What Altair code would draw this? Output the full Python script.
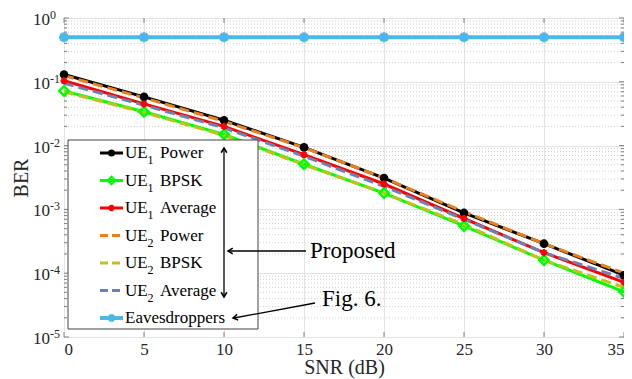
import altair as alt
import pandas as pd

# ---------------- data ----------------
snr = [0, 5, 10, 15, 20, 25, 30, 35]
ue1_power = [0.130, 0.058, 0.025, 0.0094, 0.0031, 0.00088, 0.00029, 9.3e-5]
ue1_bpsk = [0.072, 0.034, 0.015, 0.0051, 0.0018, 0.00055, 0.00016, 5.1e-5]
ue1_avg = [0.104, 0.045, 0.020, 0.0072, 0.0025, 0.00072, 0.00021, 7.2e-5]
ue2_power = [0.125, 0.056, 0.024, 0.0093, 0.0031, 0.00092, 0.00029, 1.0e-4]
ue2_bpsk = [0.070, 0.033, 0.0145, 0.0050, 0.0018, 0.00058, 0.00016, 6.0e-5]
ue2_avg = [0.095, 0.043, 0.019, 0.0068, 0.0023, 0.00070, 0.00021, 8.3e-5]
eaves = [0.5, 0.5, 0.5, 0.5, 0.5, 0.5, 0.5, 0.5]

x_ticks = [0, 5, 10, 15, 20, 25, 30, 35]
y_exps = [0, -1, -2, -3, -4, -5]
y_major = [10.0 ** e for e in y_exps]
y_minor = [m * 10.0 ** k for k in range(-5, 0) for m in range(2, 10)]

legend_labels = ["Power", "BPSK", "Average", "Power", "BPSK", "Average", "Eavesdroppers"]
legend_subs = ["1", "1", "1", "2", "2", "2", ""]

FONT = "Liberation Serif, Times New Roman, DejaVu Serif, serif"
W, H = 560, 319

xs = alt.Scale(domain=[0, 35], nice=False, zero=False)
ys = alt.Scale(type="log", domain=[1e-5, 1], nice=False)

xaxis = alt.Axis(values=x_ticks, grid=True, gridColor="#e3e3e3", ticks=False, domain=False,
                 labelFont=FONT, labelFontSize=17, labelColor="#262626", labelPadding=4,
                 title="SNR (dB)", titleFont=FONT, titleFontSize=20, titleFontWeight="normal",
                 titleColor="#262626", titlePadding=0)
yaxis = alt.Axis(values=y_major, grid=True, gridColor="#e3e3e3", ticks=False, domain=False,
                 labels=False, title="BER", titleFont=FONT, titleFontSize=20,
                 titleFontWeight="normal", titleColor="#262626", titlePadding=33)

X = lambda: alt.X("snr:Q", scale=xs, axis=xaxis)
Y = lambda: alt.Y("ber:Q", scale=ys, axis=yaxis)

one = pd.DataFrame({"a": [0]})
layers = []

# minor grid (dotted)
minor_df = pd.DataFrame({"ber": y_minor})
layers.append(alt.Chart(minor_df).mark_rule(color="#d0d0d0", strokeWidth=1, strokeDash=[1, 2])
              .encode(y=Y()))
# minor ticks left/right
layers.append(alt.Chart(minor_df).mark_rule(color="#808080", strokeWidth=1)
              .encode(y=Y(), x=alt.value(0), x2=alt.value(3)))
layers.append(alt.Chart(minor_df).mark_rule(color="#808080", strokeWidth=1)
              .encode(y=Y(), x=alt.value(W - 3), x2=alt.value(W)))
major_df = pd.DataFrame({"ber": y_major})
layers.append(alt.Chart(major_df).mark_rule(color="#808080", strokeWidth=1)
              .encode(y=Y(), x=alt.value(0), x2=alt.value(5)))
layers.append(alt.Chart(major_df).mark_rule(color="#808080", strokeWidth=1)
              .encode(y=Y(), x=alt.value(W - 5), x2=alt.value(W)))
xt_df = pd.DataFrame({"snr": x_ticks})
layers.append(alt.Chart(xt_df).mark_rule(color="#808080", strokeWidth=1)
              .encode(x=X(), y=alt.value(H - 5), y2=alt.value(H)))
layers.append(alt.Chart(xt_df).mark_rule(color="#808080", strokeWidth=1)
              .encode(x=X(), y=alt.value(0), y2=alt.value(5)))

# y tick labels: 10^e
ylab_df = pd.DataFrame({"ber": y_major, "base": ["10"] * len(y_exps), "sup": [str(e) for e in y_exps]})
layers.append(alt.Chart(ylab_df).mark_text(font=FONT, fontSize=17, align="right", baseline="middle",
                                           color="#262626", dy=2)
              .encode(y=Y(), x=alt.value(-14), text="base:N"))
layers.append(alt.Chart(ylab_df).mark_text(font=FONT, fontSize=12, align="left", baseline="middle",
                                           color="#262626", dy=-3)
              .encode(y=Y(), x=alt.value(-14), text="sup:N"))

ASTER = "M-1,0L1,0M0,-1L0,1M-0.7,-0.7L0.7,0.7M-0.7,0.7L0.7,-0.7"

series = [
    # values, color, dash, width
    (eaves, "#4cb8ea", None, 4),
    (ue1_power, "#000000", None, 3),
    (ue1_bpsk, "#00ff00", None, 3),
    (ue1_avg, "#ff0000", None, 3),
    (ue2_power, "#e8801e", [10, 5], 3),
    (ue2_bpsk, "#c2c21a", [10, 5], 3),
    (ue2_avg, "#6b82b5", [10, 5], 3),
]
for vals, color, dash, width in series:
    d = pd.DataFrame({"snr": snr, "ber": vals})
    kw = dict(color=color, strokeWidth=width)
    if dash:
        kw["strokeDash"] = dash
    layers.append(alt.Chart(d).mark_line(**kw).encode(x=X(), y=Y()))

markers = [
    (eaves, "#4cb8ea", ASTER, False, 100, 3),
    (ue1_power, "#000000", "circle", True, 75, 1),
    (ue1_bpsk, "#00ff00", "diamond", False, 90, 2.5),
    (ue1_avg, "#ff0000", ASTER, False, 50, 2),
]
for vals, color, shape, filled, size, sw in markers:
    d = pd.DataFrame({"snr": snr, "ber": vals})
    layers.append(alt.Chart(d).mark_point(shape=shape, filled=filled, color=color, size=size,
                                          strokeWidth=sw, opacity=1)
                  .encode(x=X(), y=Y()))

# ---------------- legend (manual, MATLAB-style) ----------------
LX0, LX1, LY0, LY1 = 4, 194, 122, 311
layers.append(alt.Chart(one).mark_rect(fill="white", stroke="#444444", strokeWidth=1)
              .encode(x=alt.value(LX0), x2=alt.value(LX1), y=alt.value(LY0), y2=alt.value(LY1)))
leg_style = [
    ("#000000", None, 3, "circle", True, 50, 1),
    ("#00ff00", None, 3, "diamond", False, 60, 2),
    ("#ff0000", None, 3, ASTER, False, 40, 2),
    ("#e8801e", [8, 4], 3, None, None, None, None),
    ("#c2c21a", [8, 4], 3, None, None, None, None),
    ("#6b82b5", [8, 4], 3, None, None, None, None),
    ("#4cb8ea", None, 4, ASTER, False, 60, 3),
]
for i, (color, dash, width, shape, filled, size, sw) in enumerate(leg_style):
    yy = 135 + 27.5 * i
    kw = dict(color=color, strokeWidth=width)
    if dash:
        kw["strokeDash"] = dash
    layers.append(alt.Chart(one).mark_rule(**kw)
                  .encode(x=alt.value(36), x2=alt.value(59), y=alt.value(yy)))
    if shape:
        layers.append(alt.Chart(one).mark_point(shape=shape, filled=filled, color=color, size=size,
                                                strokeWidth=sw, opacity=1)
                      .encode(x=alt.value(47.5), y=alt.value(yy)))
    if legend_subs[i]:
        layers.append(alt.Chart(one).mark_text(text="UE", font=FONT, fontSize=17, align="left",
                                               baseline="middle", color="#000000")
                      .encode(x=alt.value(61), y=alt.value(yy)))
        layers.append(alt.Chart(one).mark_text(text=legend_subs[i], font=FONT, fontSize=12,
                                               align="left", baseline="middle", color="#000000")
                      .encode(x=alt.value(83.5), y=alt.value(yy + 7)))
        layers.append(alt.Chart(one).mark_text(text=legend_labels[i], font=FONT, fontSize=17,
                                               align="left", baseline="middle", color="#000000")
                      .encode(x=alt.value(96), y=alt.value(yy)))
    else:
        layers.append(alt.Chart(one).mark_text(text=legend_labels[i], font=FONT, fontSize=17,
                                               align="left", baseline="middle", color="#000000")
                      .encode(x=alt.value(61), y=alt.value(yy)))

# ---------------- annotations ----------------
HEAD = "M-1,-0.6L0,0L-1,0.6"


def arrow_line(x1, y1, x2, y2):
    return alt.Chart(one).mark_rule(color="#000000", strokeWidth=1.3).encode(
        x=alt.value(x1), y=alt.value(y1), x2=alt.value(x2), y2=alt.value(y2))


def head(x, y, ang):
    return alt.Chart(one).mark_point(shape=HEAD, filled=False, color="#000000", size=90,
                                     strokeWidth=1.5, opacity=1, angle=ang).encode(
        x=alt.value(x), y=alt.value(y))


layers += [
    arrow_line(160, 131, 160, 278), head(160, 130, 270), head(160, 279, 90),
    arrow_line(242, 233, 165, 233), head(164, 233, 180),
    arrow_line(251, 285, 170, 300), head(169, 300, 169.6),
]
layers.append(alt.Chart(one).mark_text(text="Proposed", font=FONT, fontSize=23, align="left",
                                       baseline="middle", color="#000000")
              .encode(x=alt.value(246), y=alt.value(233)))
layers.append(alt.Chart(one).mark_text(text="Fig. 6.", font=FONT, fontSize=23, align="left",
                                       baseline="middle", color="#000000")
              .encode(x=alt.value(258), y=alt.value(281)))

chart = alt.layer(*layers).properties(
    width=W, height=H,
    autosize=alt.AutoSizeParams(type="none"),
    padding={"left": 56, "top": 10, "right": 0, "bottom": 42},
).configure_view(stroke="#808080", strokeWidth=1)

chart.save("out.html", embed_options={"renderer": "svg", "actions": False})
